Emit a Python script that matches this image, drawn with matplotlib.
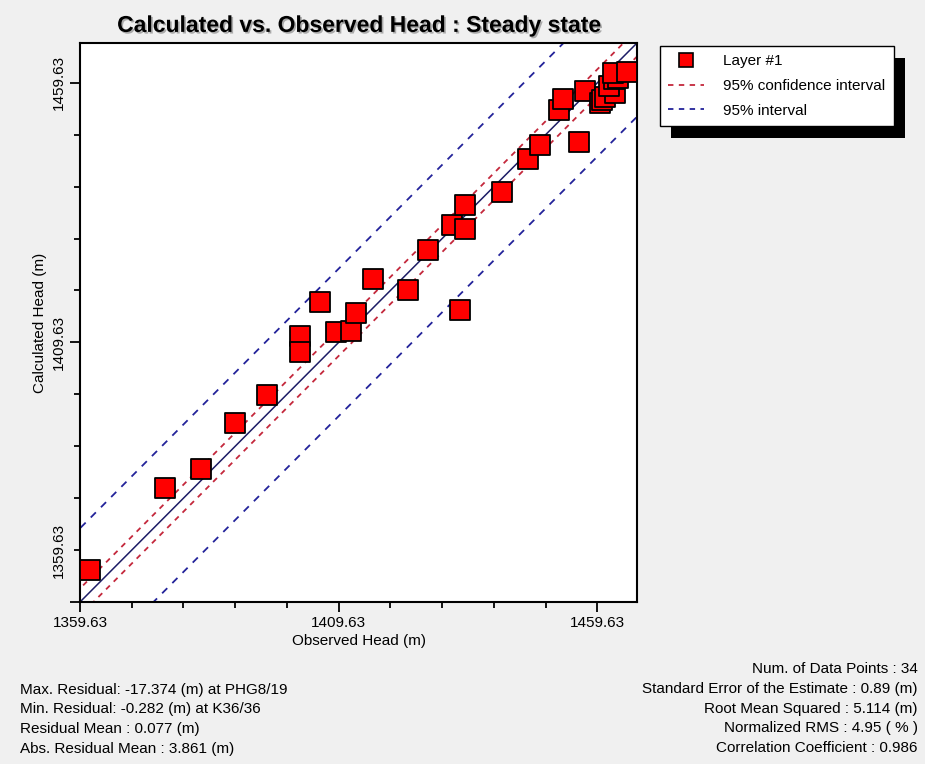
import matplotlib
matplotlib.use("Agg")
import matplotlib.pyplot as plt
import matplotlib.patheffects as pe
from matplotlib.transforms import ScaledTranslation
from matplotlib.lines import Line2D
from matplotlib.patches import Rectangle
import numpy as np

plt.rcParams['font.family'] = ['Liberation Sans', 'DejaVu Sans']

# observed vs calculated heads
observed = [1361.56, 1376.01, 1382.94, 1389.50, 1395.85, 1402.15, 1402.15, 1406.07,
            1409.09, 1412.04, 1413.00, 1416.34, 1423.02, 1426.87, 1431.56, 1434.14,
            1434.14, 1433.04, 1441.23, 1446.14, 1448.59, 1456.16, 1452.21, 1453.08,
            1457.26, 1460.15, 1460.59, 1461.11, 1463.10, 1461.94, 1462.91, 1463.68,
            1462.62, 1465.35]
calculated = [1365.80, 1381.60, 1385.26, 1394.12, 1399.51, 1410.88, 1407.86, 1417.49,
              1411.60, 1411.90, 1415.26, 1421.87, 1419.75, 1427.45, 1432.27, 1436.12,
              1431.44, 1415.89, 1438.63, 1444.99, 1447.68, 1448.32, 1454.43, 1456.51,
              1458.09, 1455.68, 1456.35, 1456.99, 1457.64, 1459.05, 1460.30, 1460.59,
              1461.46, 1461.81]

axis_min = 1359.63
axis_max = 1467.3
tick_labels = [1359.63, 1409.63, 1459.63]
conf_offset = 2.6      # 95% confidence interval half width
pred_offset = 14.2     # 95% interval half width

left_stats = ["Max. Residual: -17.374 (m) at PHG8/19",
              "Min. Residual: -0.282 (m) at K36/36",
              "Residual Mean : 0.077 (m)",
              "Abs. Residual Mean : 3.861 (m)"]
right_stats = ["Num. of Data Points : 34",
               "Standard Error of the Estimate : 0.89 (m)",
               "Root Mean Squared : 5.114 (m)",
               "Normalized RMS : 4.95 ( % )",
               "Correlation Coefficient : 0.986"]

red = '#c4283c'
blue = '#23239a'
navy = '#1c1c66'

fig = plt.figure(figsize=(9.25, 7.64), dpi=100, facecolor='#f0f0f0')
ax = fig.add_axes([80/925, 162/764, 557/925, 559/764])
ax.set_facecolor('white')

# 1:1 line and the interval lines
xs = np.array([axis_min - 20, axis_max + 20])
ax.plot(xs, xs, color=navy, lw=1.1, zorder=2)
for off in (conf_offset, -conf_offset):
    ax.plot(xs, xs + off, color=red, lw=1.3, dashes=(3, 3), zorder=2)
for off in (pred_offset, -pred_offset):
    ax.plot(xs, xs + off, color=blue, lw=1.3, dashes=(4, 4), zorder=2)

ax.scatter(observed, calculated, marker='s', s=215, c='#ff0000',
           edgecolors='black', linewidths=1.3, zorder=3)

ax.set_xlim(axis_min, axis_max)
ax.set_ylim(axis_min, axis_max)

ax.set_xticks(tick_labels)
ax.set_yticks(tick_labels)
ax.set_xticklabels(["%.2f" % t for t in tick_labels])
ax.set_yticklabels(["%.2f" % t for t in tick_labels], rotation=90, va='center')
ax.set_xticks(np.arange(axis_min, axis_max, 10), minor=True)
ax.set_yticks(np.arange(axis_min, axis_max, 10), minor=True)
ax.tick_params(which='major', length=7, width=1.3, labelsize=11, pad=3)
ax.tick_params(which='minor', length=4.5, width=1.3)
for s in ax.spines.values():
    s.set_linewidth(1.5)

ax.set_xlabel("Observed Head (m)", fontsize=11, labelpad=3)
ax.set_ylabel("Calculated Head (m)", fontsize=11, labelpad=4)

ax.set_title("Calculated vs. Observed Head : Steady state", fontsize=16.5,
             fontweight='bold', pad=8,
             path_effects=[pe.withSimplePatchShadow(offset=(1.2, -1.2),
                                                    shadow_rgbFace='#999999', alpha=0.8)])

# the program shifts the lowest y label up one minor tick
lab = ax.get_yticklabels()[0]
lab.set_transform(lab.get_transform() + ScaledTranslation(0, 0.52, fig.dpi_scale_trans))

# legend with a solid black drop shadow
handles = [Line2D([], [], ls='none', marker='s', ms=10, mfc='#ff0000', mec='black', mew=1.2),
           Line2D([], [], color=red, lw=1.3, dashes=(3, 3)),
           Line2D([], [], color=blue, lw=1.3, dashes=(3, 3))]
leg = fig.legend(handles, ["Layer #1", "95% confidence interval", "95% interval"],
                 loc='upper left', bbox_to_anchor=(660/925, 1 - 46/764),
                 fontsize=11, frameon=True, fancybox=False, borderpad=0.55,
                 handlelength=2.3, handletextpad=1.3, labelspacing=0.7,
                 borderaxespad=0)
leg.get_frame().set_edgecolor('black')
leg.get_frame().set_linewidth(1.0)
leg.get_frame().set_alpha(1)

fig.canvas.draw()
bb = leg.get_window_extent().transformed(fig.transFigure.inverted())
dx, dy = 11/925, 12/764
fig.patches.append(Rectangle((bb.x0 + dx, bb.y0 - dy), bb.width, bb.height,
                             transform=fig.transFigure, facecolor='black',
                             edgecolor='none', zorder=0))

# summary statistics under the chart
for i, line in enumerate(left_stats):
    fig.text(20/925, 1 - (690 + i*19.5)/764, line, fontsize=11, va='center', ha='left')
for i, line in enumerate(right_stats):
    fig.text(918/925, 1 - (669 + i*19.8)/764, line, fontsize=11, va='center', ha='right')

fig.savefig("out.png", dpi=100, facecolor=fig.get_facecolor())
